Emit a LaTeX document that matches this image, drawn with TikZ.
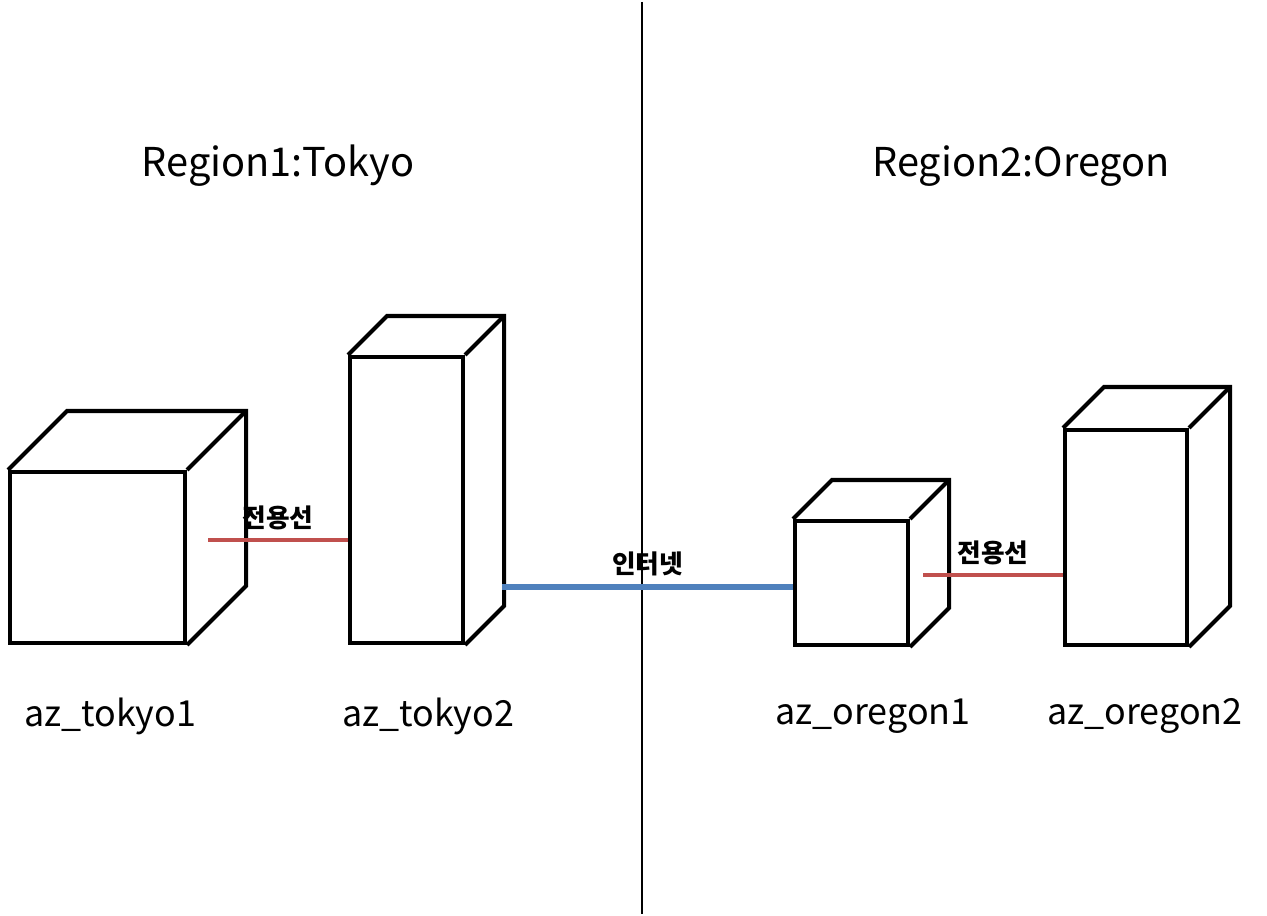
\documentclass[tikz,border=0pt]{standalone}
\usepackage{fontspec}
\setmainfont{Noto Sans CJK KR}
\usetikzlibrary{calc}

\definecolor{leasedred}{RGB}{192,80,77}
\definecolor{netblue}{RGB}{79,129,189}

\tikzset{
  azface/.style={draw, line width=1.15pt, inner sep=0pt, anchor=north west},
  azedge/.style={line width=1.15pt},
  leased/.style={leasedred, line width=0.95pt},
  inet/.style={netblue, line width=1.45pt},
  regionlabel/.style={font=\fontsize{11.3}{13}\selectfont},
  azlabel/.style={font=\fontsize{10.2}{12}\selectfont},
  linklabel/.style={black, font=\fontsize{7.3}{8}\selectfont\bfseries, inner sep=2.5pt}
}

% #1 name, #2 x, #3 y (top left), #4 width, #5 height, #6 depth
\newcommand{\azbox}[6]{%
  \node[azface, minimum width=#4*0.01cm, minimum height=#5*0.01cm] (#1) at (#2,#3) {};
  \draw[azedge] (#1.north west) -- ++(#6,-#6) -- ([shift={(#6,-#6)}]#1.north east)
    -- ([shift={(#6,-#6)}]#1.south east) -- (#1.south east);
  \draw[azedge] (#1.north east) -- ++(#6,-#6);
}

\begin{document}
\begin{tikzpicture}[x=0.01cm, y=-0.01cm]
    \useasboundingbox (0,0) rectangle (1267,916);
    % divider
    \coordinate (divtop) at (642,2);
    \coordinate (divbot) at (642,914);
    \draw[line width=0.4pt] (divtop) -- (divbot);
    \node[regionlabel] (region1) at (278,166) {Region1:Tokyo};
    \node[regionlabel] (region2) at (1021,166) {Region2:Oregon};
    % availability zones
    \azbox{tokyo1}{8}{470}{175}{171}{59}
    \azbox{tokyo2}{348}{355}{113}{286}{39}
    \azbox{oregon1}{793}{519}{113}{124}{39}
    \azbox{oregon2}{1063}{428}{122}{215}{41}
    \node[azlabel] (tokyo1lbl) at (110,716) {az\_tokyo1};
    \node[azlabel] (tokyo2lbl) at (428,716) {az\_tokyo2};
    \node[azlabel] (oregon1lbl) at (873,716) {az\_oregon1};
    \node[azlabel] (oregon2lbl) at (1145,716) {az\_oregon2};
    % links
    \coordinate (tokyolink) at (208,540);
    \draw[leased] (tokyolink) -- (tokyolink -| tokyo2.west)
        node[midway, above, linklabel] (tokyolinklbl) {전용선};
    \coordinate (inetlink) at (502,587);
    \draw[inet] (inetlink) -- (inetlink -| oregon1.west)
        node[midway, above, linklabel] (inetlbl) {인터넷};
    \coordinate (oregonlink) at (923,575);
    \draw[leased] (oregonlink) -- (oregonlink -| oregon2.west)
        node[midway, above, linklabel] (oregonlinklbl) {전용선};
\end{tikzpicture}
\end{document}
